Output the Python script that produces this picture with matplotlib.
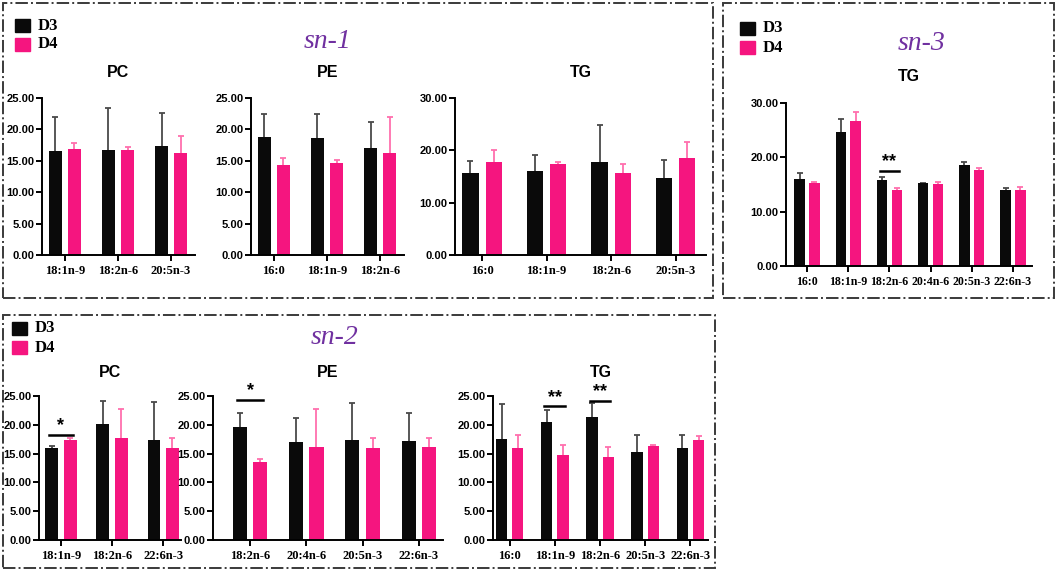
import numpy as np
import matplotlib.pyplot as plt
from matplotlib.patches import Rectangle

W, H = 1059, 572
NEGRO = "#0a0a0a"
ROSA = "#f5157f"
ERR_NEGRO = "#4a4a4a"
ERR_ROSA = "#ff6fae"

# sn-1
sn1_pc_cat = ["18:1n-9", "18:2n-6", "20:5n-3"]
sn1_pc_d3 = [16.6, 16.7, 17.3]
sn1_pc_d3_top = [21.9, 23.4, 22.6]
sn1_pc_d4 = [16.8, 16.7, 16.2]
sn1_pc_d4_top = [17.9, 17.2, 18.9]

sn1_pe_cat = ["16:0", "18:1n-9", "18:2n-6"]
sn1_pe_d3 = [18.8, 18.6, 17.0]
sn1_pe_d3_top = [22.4, 22.4, 21.2]
sn1_pe_d4 = [14.4, 14.6, 16.2]
sn1_pe_d4_top = [15.5, 15.2, 21.9]

sn1_tg_cat = ["16:0", "18:1n-9", "18:2n-6", "20:5n-3"]
sn1_tg_d3 = [15.7, 16.0, 17.7, 14.8]
sn1_tg_d3_top = [17.9, 19.1, 24.9, 18.1]
sn1_tg_d4 = [17.7, 17.4, 15.7, 18.6]
sn1_tg_d4_top = [20.0, 17.7, 17.3, 21.5]

# sn-3
sn3_tg_cat = ["16:0", "18:1n-9", "18:2n-6", "20:4n-6", "20:5n-3", "22:6n-3"]
sn3_tg_d3 = [16.0, 24.7, 15.9, 15.2, 18.6, 14.0]
sn3_tg_d3_top = [17.2, 27.1, 16.3, 15.3, 19.2, 14.4]
sn3_tg_d4 = [15.3, 26.7, 13.9, 15.0, 17.7, 14.0]
sn3_tg_d4_top = [15.5, 28.3, 14.3, 15.5, 18.1, 14.5]

# sn-2
sn2_pc_cat = ["18:1n-9", "18:2n-6", "22:6n-3"]
sn2_pc_d3 = [16.0, 20.2, 17.4]
sn2_pc_d3_top = [16.4, 24.1, 24.0]
sn2_pc_d4 = [17.3, 17.65, 15.9]
sn2_pc_d4_top = [17.65, 22.8, 17.65]

sn2_pe_cat = ["18:2n-6", "20:4n-6", "20:5n-3", "22:6n-3"]
sn2_pe_d3 = [19.7, 17.1, 17.4, 17.2]
sn2_pe_d3_top = [22.0, 21.1, 23.8, 22.0]
sn2_pe_d4 = [13.5, 16.2, 15.9, 16.1]
sn2_pe_d4_top = [14.0, 22.8, 17.65, 17.65]

sn2_tg_cat = ["16:0", "18:1n-9", "18:2n-6", "20:5n-3", "22:6n-3"]
sn2_tg_d3 = [17.5, 20.5, 21.3, 15.3, 15.9]
sn2_tg_d3_top = [23.6, 22.5, 23.7, 18.3, 18.3]
sn2_tg_d4 = [15.9, 14.7, 14.4, 16.3, 17.4]
sn2_tg_d4_top = [18.2, 16.55, 16.1, 16.55, 18.05]

plt.rcParams["font.family"] = "Liberation Sans"

fig = plt.figure(figsize=(W / 100, H / 100), dpi=100)


def caja(x0, y0, x1, y1):
    # pixel box -> figure fraction
    return [x0 / W, 1 - y1 / H, (x1 - x0) / W, (y1 - y0) / H]


def panel(px, cat, d3, d3_top, d4, d4_top, ymax, step, titulo, xlim, pad=15, xfs=9, sig=None):
    ax = fig.add_axes(caja(*px))
    x = np.arange(len(cat))
    w = 0.25
    off = 0.18
    ax.bar(x - off, d3, w, color=NEGRO, zorder=2)
    ax.bar(x + off, d4, w, color=ROSA, zorder=2)
    for xs, v, top, c in [(x - off, d3, d3_top, ERR_NEGRO), (x + off, d4, d4_top, ERR_ROSA)]:
        up = np.array(top) - np.array(v)
        _, caps, _ = ax.errorbar(xs, v, yerr=[np.zeros(len(v)), up], fmt="none",
                                 ecolor=c, elinewidth=1.3, capsize=2.5, capthick=1.3, zorder=1)
        caps[0].set_visible(False)
    ax.set_ylim(0, ymax)
    ax.set_xlim(*xlim)
    ticks = np.arange(0, ymax + 0.1, step)
    ax.set_yticks(ticks)
    ax.set_yticklabels([f"{t:.2f}" for t in ticks], fontsize=8, fontweight="bold")
    ax.set_xticks(x)
    ax.set_xticklabels(cat, fontsize=xfs, fontweight="bold", family="Liberation Serif")
    for s in ["top", "right"]:
        ax.spines[s].set_visible(False)
    for s in ["left", "bottom"]:
        ax.spines[s].set_linewidth(1.4)
    ax.tick_params(width=1.4, length=4, pad=1.5)
    ax.tick_params(axis="x", pad=3)
    ax.set_title(titulo, fontsize=11.5, fontweight="bold", pad=pad)
    if sig:
        for i, yv, txt in sig:
            ax.plot([i - off - 0.05, i + off + 0.05], [yv, yv], color="black", lw=1.8, clip_on=False)
            ax.text(i, yv + 0.1, txt, ha="center", va="bottom", fontsize=13, fontweight="bold")
    return ax


# sn-1
panel((42, 98, 195, 255), sn1_pc_cat, sn1_pc_d3, sn1_pc_d3_top, sn1_pc_d4, sn1_pc_d4_top,
      25, 5, "PC", (-0.43, 2.45))
panel((251, 98, 404, 255), sn1_pe_cat, sn1_pe_d3, sn1_pe_d3_top, sn1_pe_d4, sn1_pe_d4_top,
      25, 5, "PE", (-0.43, 2.45))
panel((455, 98, 706, 255), sn1_tg_cat, sn1_tg_d3, sn1_tg_d3_top, sn1_tg_d4, sn1_tg_d4_top,
      30, 10, "TG", (-0.42, 3.47))

# sn-3
panel((786, 103, 1032, 266), sn3_tg_cat, sn3_tg_d3, sn3_tg_d3_top, sn3_tg_d4, sn3_tg_d4_top,
      30, 10, "TG", (-0.51, 5.46), pad=16, xfs=8.6, sig=[(2, 17.5, "**")])

# sn-2
panel((39, 396, 181, 540), sn2_pc_cat, sn2_pc_d3, sn2_pc_d3_top, sn2_pc_d4, sn2_pc_d4_top,
      25, 5, "PC", (-0.43, 2.35), pad=14, sig=[(0, 18.2, "*")])
panel((213, 396, 443, 540), sn2_pe_cat, sn2_pe_d3, sn2_pe_d3_top, sn2_pe_d4, sn2_pe_d4_top,
      25, 5, "PE", (-0.66, 3.43), pad=14, sig=[(0, 24.3, "*")])
panel((493, 396, 708, 540), sn2_tg_cat, sn2_tg_d3, sn2_tg_d3_top, sn2_tg_d4, sn2_tg_d4_top,
      25, 5, "TG", (-0.37, 4.39), pad=14, sig=[(1, 23.2, "**"), (2, 24.2, "**")])

# cajas punteadas
for x0, y0, x1, y1 in [(3, 3, 713, 298), (723, 3, 1054, 298), (3, 315, 715, 568)]:
    fig.patches.append(Rectangle((x0 / W, 1 - y1 / H), (x1 - x0) / W, (y1 - y0) / H,
                                 transform=fig.transFigure, fill=False, edgecolor="#3a3a3a",
                                 linewidth=1.4, linestyle="-."))


def leyenda(x, y):
    for k, (lab, c) in enumerate([("D3", NEGRO), ("D4", ROSA)]):
        yy = y + k * 19
        fig.patches.append(Rectangle((x / W, 1 - (yy + 13) / H), 15 / W, 13 / H,
                                     transform=fig.transFigure, color=c))
        fig.text((x + 23) / W, 1 - (yy + 6.5) / H, lab, fontsize=12, fontweight="bold",
                 family="Liberation Serif", va="center")


leyenda(15, 19)
leyenda(740, 22)
leyenda(12, 322)

for txt, x, y in [("sn-1", 328, 41), ("sn-3", 922, 44), ("sn-2", 335, 337)]:
    fig.text(x / W, 1 - y / H, txt, fontsize=20, style="italic", family="Liberation Serif",
             color="#7030a0", ha="center", va="center")

fig.savefig("out.png", dpi=100)
